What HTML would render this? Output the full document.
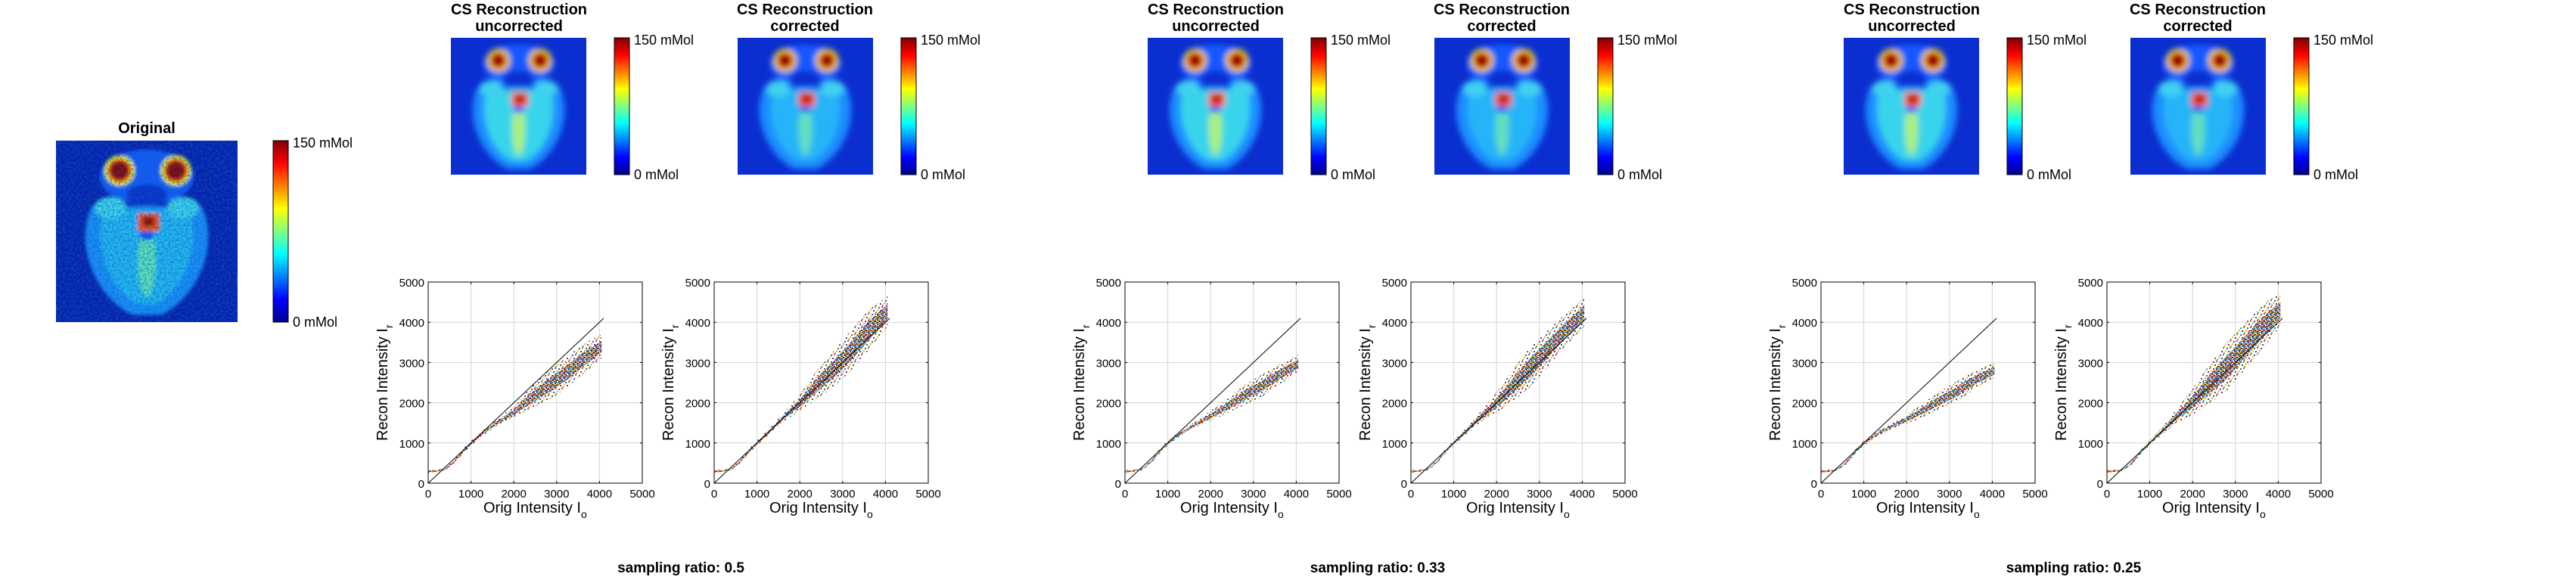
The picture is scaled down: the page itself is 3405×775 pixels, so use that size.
<!DOCTYPE html>
<html><head><meta charset="utf-8"><title>CS reconstruction figure</title>
<style>
html,body{margin:0;padding:0;background:#fff;}
svg{display:block;font-family:"Liberation Sans",Arial,sans-serif;}
</style></head>
<body>
<svg id="fig" width="3405" height="775" viewBox="0 0 3405 775" xmlns="http://www.w3.org/2000/svg">
<defs>
<linearGradient id="jet" x1="0" y1="1" x2="0" y2="0">
<stop offset="0" stop-color="#00008f"/><stop offset="0.125" stop-color="#0000ff"/>
<stop offset="0.375" stop-color="#00ffff"/><stop offset="0.625" stop-color="#ffff00"/>
<stop offset="0.875" stop-color="#ff0000"/><stop offset="1" stop-color="#800000"/>
</linearGradient>
<filter id="blurR" x="-20%" y="-20%" width="140%" height="140%"><feGaussianBlur stdDeviation="4"/></filter>
<filter id="blurO" x="-20%" y="-20%" width="140%" height="140%"><feGaussianBlur stdDeviation="2"/></filter>
<filter id="noise" x="0" y="0" width="100%" height="100%">
<feTurbulence type="fractalNoise" baseFrequency="0.35" numOctaves="1" seed="3"/>
<feColorMatrix values="0 0 0 0 0  0 0 0 0 0.15  0 0 0 0 0.35  0 0 0 1.6 -0.6"/>
</filter>
<pattern id="dotsSparse" width="9" height="9" patternUnits="userSpaceOnUse">
<rect x="0" y="1" width="2" height="2" fill="#0072bd"/><rect x="4" y="0" width="2" height="2" fill="#d95319"/>
<rect x="7" y="4" width="2" height="2" fill="#edb120"/><rect x="2" y="5" width="2" height="2" fill="#7e2f8e"/>
<rect x="5" y="7" width="2" height="2" fill="#77ac30"/>
</pattern>
<pattern id="dotsDense" width="6" height="6" patternUnits="userSpaceOnUse">
<rect x="0" y="0" width="2" height="2" fill="#0072bd"/><rect x="2" y="0" width="2" height="2" fill="#d95319"/>
<rect x="4" y="1" width="2" height="2" fill="#4dbeee"/><rect x="1" y="2" width="2" height="2" fill="#7e2f8e"/>
<rect x="3" y="3" width="2" height="2" fill="#77ac30"/><rect x="0" y="4" width="2" height="2" fill="#edb120"/>
<rect x="4" y="4" width="2" height="2" fill="#a2142f"/><rect x="2" y="5" width="2" height="1" fill="#0072bd"/>
</pattern>
</defs>
<g id="root"></g>
</svg>
<script>
// ---- chart data ----
const xTicks = [0, 1000, 2000, 3000, 4000, 5000];
const yTicks = [0, 1000, 2000, 3000, 4000, 5000];
const identityX = [0, 4100];
const identityY = [0, 4100];
const bandX = [0, 200, 400, 600, 800, 1000, 1300, 1600, 2000, 2400, 2800, 3200, 3600, 4050];
const unc05Lo = [240, 270, 320, 480, 720, 930, 1200, 1420, 1620, 1850, 2050, 2350, 2700, 3100];
const unc05Hi = [330, 340, 380, 560, 840, 1060, 1330, 1580, 1900, 2400, 2800, 3100, 3450, 3700];
const cor05Lo = [240, 270, 320, 480, 730, 940, 1220, 1520, 1800, 2100, 2400, 2800, 3300, 3900];
const cor05Hi = [330, 340, 380, 560, 840, 1060, 1370, 1720, 2200, 2800, 3300, 3800, 4300, 4650];
const unc033Lo = [240, 270, 320, 480, 720, 930, 1180, 1360, 1550, 1750, 1950, 2150, 2450, 2750];
const unc033Hi = [330, 340, 380, 560, 840, 1060, 1300, 1500, 1800, 2100, 2450, 2700, 2950, 3200];
const cor033Lo = [240, 270, 320, 480, 730, 940, 1220, 1500, 1750, 2050, 2400, 2900, 3400, 3900];
const cor033Hi = [330, 340, 380, 560, 840, 1060, 1380, 1750, 2250, 2850, 3400, 3800, 4200, 4600];
const unc025Lo = [240, 270, 320, 480, 720, 930, 1150, 1320, 1480, 1650, 1850, 2050, 2350, 2600];
const unc025Hi = [330, 340, 380, 560, 840, 1060, 1280, 1450, 1700, 2000, 2300, 2550, 2800, 3000];
const cor025Lo = [240, 270, 320, 480, 730, 940, 1220, 1480, 1700, 2000, 2300, 2800, 3300, 3900];
const cor025Hi = [330, 340, 380, 560, 840, 1060, 1400, 1800, 2350, 2950, 3500, 3950, 4400, 4750];
const ratioLabels = ["sampling ratio: 0.5", "sampling ratio: 0.33", "sampling ratio: 0.25"];

const NS = "http://www.w3.org/2000/svg";
const root = document.getElementById("root");
function mk(tag, attrs, parent) {
  const e = document.createElementNS(NS, tag);
  for (const k in attrs) e.setAttribute(k, attrs[k]);
  (parent || root).appendChild(e);
  return e;
}
function txt(s, attrs, parent) { const t = mk("text", attrs, parent); t.textContent = s; return t; }

// ---- brain image ----
function brain(x, y, w, h, original, bright, name) {
  const g = mk("g", {});
  
  
  const cid = "clip" + name;
  const cp = mk("clipPath", { id: cid }, g);
  mk("rect", { x: x, y: y, width: w, height: h }, cp);
  const inner = mk("g", { "clip-path": "url(#" + cid + ")" }, g);
  mk("rect", { x: x, y: y, width: w, height: h, fill: original ? "#0a1eb4" : "#0b2ed0" }, inner);
  const b = mk("g", { filter: original ? "url(#blurO)" : "url(#blurR)" }, inner);
  const X = f => x + f * w, Y = f => y + f * h;
  mk("ellipse", { cx: X(0.5), cy: Y(0.2), rx: 0.26 * w, ry: 0.15 * h, fill: "#1458ff" }, b);
  const body = "M" + X(0.2) + "," + Y(0.36) +
    " C" + X(0.1) + "," + Y(0.55) + " " + X(0.2) + "," + Y(0.85) + " " + X(0.42) + "," + Y(0.96) +
    " L" + X(0.58) + "," + Y(0.96) +
    " C" + X(0.8) + "," + Y(0.85) + " " + X(0.9) + "," + Y(0.55) + " " + X(0.8) + "," + Y(0.36) + " Z";
  mk("path", { d: body, fill: "#1c8cff" }, b);
  const body2 = "M" + X(0.27) + "," + Y(0.38) +
    " C" + X(0.2) + "," + Y(0.55) + " " + X(0.28) + "," + Y(0.82) + " " + X(0.45) + "," + Y(0.9) +
    " L" + X(0.55) + "," + Y(0.9) +
    " C" + X(0.72) + "," + Y(0.82) + " " + X(0.8) + "," + Y(0.55) + " " + X(0.73) + "," + Y(0.38) + " Z";
  mk("path", { d: body2, fill: bright ? "#38d4ec" : "#28b4f8" }, b);
  mk("ellipse", { cx: X(0.5), cy: Y(0.66), rx: 0.05 * w, ry: 0.2 * h, fill: bright ? "#a8f080" : "#60e0c0" }, b);
  mk("ellipse", { cx: X(0.3), cy: Y(0.37), rx: 0.09 * w, ry: 0.06 * h, fill: "#40d0f0" }, b);
  mk("ellipse", { cx: X(0.7), cy: Y(0.37), rx: 0.09 * w, ry: 0.06 * h, fill: "#40d0f0" }, b);
  mk("ellipse", { cx: X(0.5), cy: Y(0.3), rx: 0.11 * w, ry: 0.06 * h, fill: "#0b2ed0" }, b);
  mk("ellipse", { cx: X(0.5), cy: Y(0.52), rx: 0.04 * w, ry: 0.03 * h, fill: "#1458ff" }, b);
  [0.35, 0.66].forEach(ex => {
    mk("circle", { cx: X(ex), cy: Y(0.165), r: 0.085 * w, fill: "#e8f020" }, b);
    mk("circle", { cx: X(ex), cy: Y(0.165), r: 0.065 * w, fill: "#ff3000" }, b);
    mk("circle", { cx: X(ex), cy: Y(0.165), r: 0.048 * w, fill: "#8a0000" }, b);
  });
  mk("rect", { x: X(0.45), y: Y(0.4), width: 0.12 * w, height: 0.1 * h, fill: "#ff5000" }, b);
  mk("rect", { x: X(0.48), y: Y(0.42), width: 0.06 * w, height: 0.05 * h, fill: "#a00000" }, b);
  if (original) mk("rect", { x: x, y: y, width: w, height: h, filter: "url(#noise)", opacity: 0.9 }, inner);
}
function colorbar(x, y, w, h, name) {
  const g = mk("g", {});
  
  
  mk("rect", { x: x, y: y, width: w, height: h, fill: "url(#jet)", stroke: "#000", "stroke-width": 1 }, g);
  txt("150 mMol", { x: x + w + 6, y: y + 9, "font-size": 18 }, g);
  txt("0 mMol", { x: x + w + 6, y: y + h + 6, "font-size": 18 }, g);
}
function title(lines, cx, y0, name) {
  const t = mk("text", { x: cx, y: y0, "text-anchor": "middle", "font-size": 20, "font-weight": "bold" });
  
  
  lines.forEach((l, i) => { const s = mk("tspan", { x: cx, dy: i ? 22 : 0 }, t); s.textContent = l; });
}

// ---- scatter plot ----
function plot(L, T, lo, hi, name) {
  const W = 283, H = 266;
  const sx = v => L + v / 5000 * W, sy = v => T + H - v / 5000 * H;
  const g = mk("g", {});
  
  
  xTicks.forEach(v => { if (v > 0 && v < 5000) mk("line", { x1: sx(v), y1: T, x2: sx(v), y2: T + H, stroke: "#d4d4d4", "stroke-width": 1 }, g); });
  yTicks.forEach(v => { if (v > 0 && v < 5000) mk("line", { x1: L, y1: sy(v), x2: L + W, y2: sy(v), stroke: "#d4d4d4", "stroke-width": 1 }, g); });
  let pts = bandX.map((v, i) => sx(v) + "," + sy(hi[i]));
  pts = pts.concat(bandX.map((v, i) => sx(v) + "," + sy(lo[i])).reverse());
  const band = mk("polygon", { points: pts.join(" "), fill: "url(#dotsSparse)" }, g);
  
  
  let ip = bandX.map((v, i) => sx(v) + "," + sy(lo[i] + 0.72 * (hi[i] - lo[i])));
  ip = ip.concat(bandX.map((v, i) => sx(v) + "," + sy(lo[i] + 0.25 * (hi[i] - lo[i]))).reverse());
  const core = mk("polygon", { points: ip.join(" "), fill: "url(#dotsDense)" }, g);
  
  
  const idl = mk("line", { x1: sx(identityX[0]), y1: sy(identityY[0]), x2: sx(identityX[1]), y2: sy(identityY[1]), stroke: "#000", "stroke-width": 1 }, g);
  
  
  mk("rect", { x: L, y: T, width: W, height: H, fill: "none", stroke: "#000", "stroke-width": 1 }, g);
  xTicks.forEach(v => {
    mk("line", { x1: sx(v), y1: T + H, x2: sx(v), y2: T + H - 3, stroke: "#000" }, g);
    mk("line", { x1: sx(v), y1: T, x2: sx(v), y2: T + 3, stroke: "#000" }, g);
    const t = txt(String(v), { x: sx(v), y: T + H + 19, "text-anchor": "middle", "font-size": 15 }, g);
    
    
  });
  yTicks.forEach(v => {
    mk("line", { x1: L, y1: sy(v), x2: L + 3, y2: sy(v), stroke: "#000" }, g);
    mk("line", { x1: L + W, y1: sy(v), x2: L + W - 3, y2: sy(v), stroke: "#000" }, g);
    const t = txt(String(v), { x: L - 5, y: sy(v) + 6, "text-anchor": "end", "font-size": 15 }, g);
    
    
  });
  const xl = mk("text", { x: L + 73, y: T + H + 39, "font-size": 20 }, g);
  
  
  xl.appendChild(document.createTextNode("Orig Intensity I"));
  const sub = mk("tspan", { dy: 7, "font-size": 14 }, xl); sub.textContent = "o";
  const yl = mk("text", { transform: "translate(" + (L - 54) + "," + (T + 210) + ") rotate(-90)", "font-size": 20 }, g);
  
  
  yl.appendChild(document.createTextNode("Recon Intensity I"));
  const sub2 = mk("tspan", { dy: 7, "font-size": 14 }, yl); sub2.textContent = "r";
}

// ---- layout ----
brain(74, 186, 240, 240, true, false, "original-image");
colorbar(361, 186, 20, 240, "original-colorbar");
title(["Original"], 194, 176, "original-title");

const offsets = [0, 921, 1841];
const lows = [[unc05Lo, cor05Lo], [unc033Lo, cor033Lo], [unc025Lo, cor025Lo]];
const highs = [[unc05Hi, cor05Hi], [unc033Hi, cor033Hi], [unc025Hi, cor025Hi]];
offsets.forEach((o, gi) => {
  brain(596 + o, 50, 179, 181, false, true, "uncorrected-image-" + gi);
  colorbar(812 + o, 50, 20, 181, "uncorrected-colorbar-" + gi);
  title(["CS Reconstruction", "uncorrected"], 686 + o, 19, "uncorrected-title-" + gi);
  brain(975 + o, 50, 179, 181, false, false, "corrected-image-" + gi);
  colorbar(1191 + o, 50, 20, 181, "corrected-colorbar-" + gi);
  title(["CS Reconstruction", "corrected"], 1064 + o, 19, "corrected-title-" + gi);
  plot(566 + o, 373, lows[gi][0], highs[gi][0], "uncorrected-scatter-" + gi);
  plot(944 + o, 373, lows[gi][1], highs[gi][1], "corrected-scatter-" + gi);
  const s = txt(ratioLabels[gi], { x: 900 + o, y: 757, "text-anchor": "middle", "font-size": 19, "font-weight": "bold" });
  
  
});
</script>
</body></html>
